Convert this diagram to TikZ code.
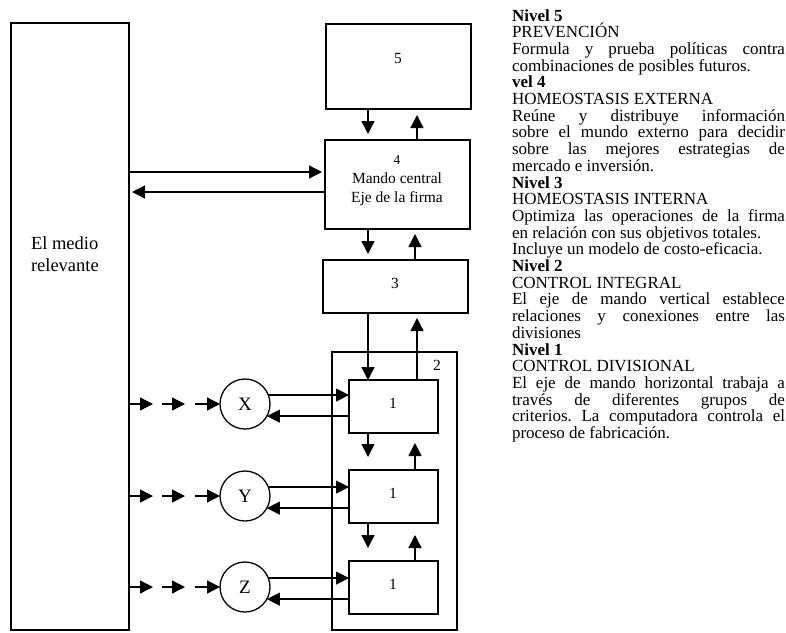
\documentclass[tikz,border=0pt]{standalone}
\usepackage{fontspec}
\setmainfont{Liberation Serif}
\usetikzlibrary{arrows.meta,calc}
\begin{document}
\frenchspacing
\begin{tikzpicture}[x=1pt,y=-1pt,
  every node/.style={inner sep=0pt,outer sep=0pt},
  bx/.style={draw,line width=1.4pt},
  circ/.style={draw,circle,line width=1.3pt,minimum size=50pt,font=\fontsize{19}{19}\selectfont},
  arr/.style={line width=1.3pt,-{Triangle[length=13pt,width=13pt]}},
  small/.style={font=\fontsize{15.5}{15.5}\selectfont},
  mid/.style={font=\fontsize{15.5}{19}\selectfont,align=center}]
\useasboundingbox (0,0) rectangle (786,632);
% boxes
\node[bx,minimum width=118pt,minimum height=607pt] (med) at (70,326.5) {};
\node[anchor=west,align=left,font=\fontsize{18.5}{22}\selectfont] (medt) at (31,254) {El medio\\relevante};
\node[bx,minimum width=145pt,minimum height=85pt] (b5) at (398.5,66.5) {};
\node[small] (t5) at (398,58) {5};
\node[bx,minimum width=145pt,minimum height=89pt] (b4) at (397.5,184.5) {};
\node[font=\fontsize{13.5}{13.5}\selectfont] (t4) at (397,160) {4};
\node[mid] (t4b) at (397,189) {Mando central\\Eje de la firma};
\node[bx,minimum width=145pt,minimum height=53pt] (b3) at (395.5,286.5) {};
\node[small] (t3) at (395,283) {3};
\node[bx,minimum width=125pt,minimum height=278pt] (b2) at (394.5,491) {};
\node[small] (t2) at (437,365) {2};
\node[bx,minimum width=89pt,minimum height=53pt] (b1a) at (393.5,406.5) {};
\node[small] (t1a) at (393,403) {1};
\node[bx,minimum width=89pt,minimum height=53pt] (b1b) at (393.5,496.5) {};
\node[small] (t1b) at (393,493) {1};
\node[bx,minimum width=89pt,minimum height=53pt] (b1c) at (393.5,587.5) {};
\node[small] (t1c) at (393,584) {1};
\node[circ] (X) at (245,404) {X};
\node[circ] (Y) at (245,496) {Y};
\node[circ] (Z) at (245,587) {Z};
% helper x positions
\coordinate (cL) at (368,0);
\coordinate (cR) at (417,0);
\coordinate (cR2) at (415,0);
\coordinate (d1) at (153,0);
\coordinate (d2s) at (162,0);
\coordinate (d2) at (185,0);
\coordinate (d3s) at (195,0);
\coordinate (hin) at (0,172);
\coordinate (hout) at (0,192);
% vertical arrows
\draw[arr,shorten >=6pt] (b5.south -| cL) -- (b4.north -| cL);
\draw[arr,shorten >=6pt] (b4.north -| cR) -- (b5.south -| cR);
\draw[arr,shorten >=6pt] (b4.south -| cL) -- (b3.north -| cL);
\draw[arr,shorten >=5pt] (b3.north -| cR2) -- (b4.south -| cR2);
\draw[arr] (b3.south -| cL) -- (b1a.north -| cL);
\draw[arr,shorten >=5pt] (b1a.north -| cR) -- (b3.south -| cR);
\draw[arr,shorten >=13pt] (b1a.south -| cL) -- (b1b.north -| cL);
\draw[arr,shorten >=10pt] (b1b.north -| cR2) -- (b1a.south -| cR2);
\draw[arr,shorten >=13pt] (b1b.south -| cL) -- (b1c.north -| cL);
\draw[arr,shorten >=12pt] (b1c.north -| cR2) -- (b1b.south -| cR2);
% medio <-> 4
\draw[arr,shorten >=3pt] (med.east |- hin) -- (b4.west |- hin);
\draw[arr,shorten >=3pt] (b4.west |- hout) -- (med.east |- hout);
% dashed inputs and circle links
\foreach \c/\b in {X/b1a,Y/b1b,Z/b1c}{
  \draw[arr] (med.east |- \c) -- (d1 |- \c);
  \draw[arr] (d2s |- \c) -- (d2 |- \c);
  \draw[arr] (d3s |- \c) -- (\c.west);
  \draw[arr] (\c.21) -- (\c.21 -| \b.west);
  \draw[arr] (\c.-29 -| \b.west) -- (\c.-29);
}
% right text
\node[anchor=base west] (txt) at (512,21) {\parbox[t]{273pt}{\fontsize{17}{16.7}\selectfont
\textbf{Nivel 5}\\
PREVENCIÓN\\
Formula y prueba políticas contra\linebreak
combinaciones de posibles futuros.\\
\textbf{vel 4}\\
HOMEOSTASIS EXTERNA\\
Reúne y distribuye información\linebreak
sobre el mundo externo para decidir\linebreak
sobre las mejores estrategias de\linebreak
mercado e inversión.\\
\textbf{Nivel 3}\\
HOMEOSTASIS INTERNA\\
Optimiza las operaciones de la firma\linebreak
en relación con sus objetivos totales.\\
Incluye un modelo de costo-eficacia.\\
\textbf{Nivel 2}\\
CONTROL INTEGRAL\\
El eje de mando vertical establece\linebreak
relaciones y conexiones entre las\linebreak
divisiones\\
\textbf{Nivel 1}\\
CONTROL DIVISIONAL\\
El eje de mando horizontal trabaja a\linebreak
través de diferentes grupos de\linebreak
criterios. La computadora controla el\linebreak
proceso de fabricación.}};
\end{tikzpicture}
\end{document}
